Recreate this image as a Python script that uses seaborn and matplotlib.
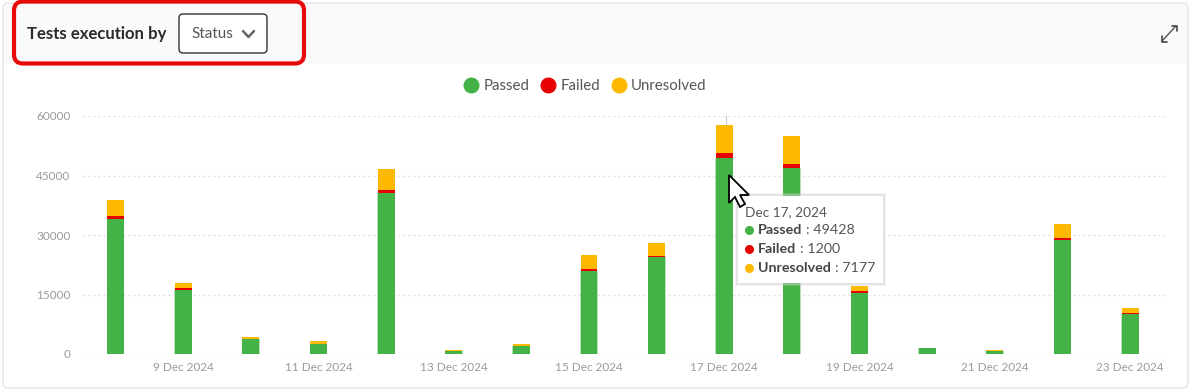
import matplotlib

matplotlib.use("Agg")
import matplotlib.pyplot as plt
import pandas as pd
import seaborn as sns
from matplotlib.lines import Line2D
from matplotlib.patches import FancyBboxPatch, Polygon, Rectangle

dates = ["8 Dec 2024", "9 Dec 2024", "10 Dec 2024", "11 Dec 2024", "12 Dec 2024", "13 Dec 2024",
         "14 Dec 2024", "15 Dec 2024", "16 Dec 2024", "17 Dec 2024", "18 Dec 2024", "19 Dec 2024",
         "20 Dec 2024", "21 Dec 2024", "22 Dec 2024", "23 Dec 2024"]
passed = [34000, 16200, 3800, 2600, 40600, 800, 2000, 21000, 24400, 49428, 46900, 15300, 1600, 800, 28700, 10100]
failed = [800, 500, 0, 0, 800, 0, 0, 400, 400, 1200, 1000, 500, 0, 0, 500, 250]
unresolved = [4000, 1200, 600, 700, 5200, 200, 500, 3600, 3200, 7177, 7100, 1300, 0, 300, 3600, 1250]
y_ticks = [0, 15000, 30000, 45000, 60000]

GREEN = "#43b347"
RED = "#e60000"
AMBER = "#fdb900"
TICK_GREY = "#9a9a9a"

sns.set_theme(style="white")
plt.rcParams["font.family"] = ["Lato", "DejaVu Sans"]

df = pd.DataFrame({"date": dates, "passed": passed, "failed": failed, "unresolved": unresolved})

fig = plt.figure(figsize=(12, 3.92), dpi=100, facecolor="white")

# page furniture sits on a full size axes in pixel coordinates
bg = fig.add_axes([0, 0, 1, 1], zorder=0)
bg.set_xlim(0, 1200)
bg.set_ylim(392, 0)
bg.axis("off")
bg.add_patch(Rectangle((3, 3), 1185, 61, fc="#fafafa", ec="none"))
bg.add_patch(FancyBboxPatch((3, 3), 1185, 385, boxstyle="round,pad=0,rounding_size=5",
                            fc="none", ec="#e4e4e4", lw=1))

# plot area, 83..1165 wide and 116..354 tall in pixels
ax = fig.add_axes([83 / 1200, 1 - 354 / 392, (1165 - 83) / 1200, (354 - 116) / 392], zorder=1)
ax.patch.set_alpha(0)
width = 0.25
# pale halo on the sides of the green part
sns.barplot(data=df, x="date", y="passed", color="#b4e0b6", width=width + 0.012, saturation=1, ax=ax,
            linewidth=0, zorder=2)
sns.barplot(data=df, x="date", y="passed", color=GREEN, width=width, saturation=1, ax=ax,
            linewidth=0, zorder=3)
sns.barplot(data=df, x="date", y="failed", color=RED, width=width, saturation=1, ax=ax,
            bottom=df["passed"], linewidth=0, zorder=3)
sns.barplot(data=df, x="date", y="unresolved", color=AMBER, width=width, saturation=1, ax=ax,
            bottom=df["passed"] + df["failed"], linewidth=0, zorder=3)

ax.set_xlim(-0.48, 15.515)
ax.set_ylim(0, 60000)
ax.set_xlabel("")
ax.set_ylabel("")
ax.set_xticks(range(1, 16, 2))
ax.set_xticklabels(dates[1::2])
ax.set_yticks(y_ticks)
ax.set_yticklabels([str(v) for v in y_ticks])
ax.tick_params(axis="both", length=0, labelsize=8.5, labelcolor=TICK_GREY)
ax.tick_params(axis="x", pad=6)
ax.tick_params(axis="y", pad=9)
ax.yaxis.grid(True, color="#dddddd", linestyle=(0, (1.5, 2.5)), linewidth=0.9, zorder=0)
ax.set_axisbelow(True)
sns.despine(ax=ax, left=True, bottom=True, top=True, right=True)

handles = [Line2D([], [], marker="o", ls="", ms=10.5, color=c) for c in (GREEN, RED, AMBER)]
ax.legend(handles, ["Passed", "Failed", "Unresolved"], loc="center", ncol=3, frameon=False,
          bbox_to_anchor=(0.464, 1.127), fontsize=10.8, labelcolor="#555555",
          handlelength=1, handletextpad=0.3, columnspacing=0.77)

# overlay: header controls, tooltip and pointer
top = fig.add_axes([0, 0, 1, 1], zorder=2)
top.set_xlim(0, 1200)
top.set_ylim(392, 0)
top.axis("off")
top.add_patch(FancyBboxPatch((14, 1.5), 290, 62, boxstyle="round,pad=0,rounding_size=9",
                             fc="none", ec="#e60a0a", lw=3))
top.text(27, 33.5, "Tests execution by", fontsize=12.1, fontweight="bold", color="#2b2b2b", va="center")
top.add_patch(FancyBboxPatch((179, 14), 88, 39, boxstyle="round,pad=0,rounding_size=4",
                             fc="white", ec="#333333", lw=1))
top.text(191, 34, "Status", fontsize=11, color="#555555", va="center")
top.plot([243, 248.5, 254], [31, 37, 31], color="#666666", lw=1.8)

# expand icon
top.plot([1162, 1176], [41, 26], color="#555555", lw=1)
top.plot([1171.5, 1176.5, 1176.5], [25.5, 25.5, 30.5], color="#444444", lw=1.2)
top.plot([1161.5, 1161.5, 1167], [36, 41.5, 41.5], color="#444444", lw=1.2)

# hover line above the hovered bar
top.plot([725.5, 725.5], [116, 125], color="#cccccc", lw=0.8)

for off, alpha in ((2.0, 0.25), (1.0, 0.4)):
    top.add_patch(Rectangle((737 - off, 195 - off), 147 + 2 * off, 89 + 2 * off, fc="#cfcfcf", ec="none", alpha=alpha))
top.add_patch(Rectangle((738, 196), 145, 87, fc="white", ec="none"))

top.text(745, 212, "Dec 17, 2024", fontsize=9.8, color="#555555", va="center")
hovered = dates.index("17 Dec 2024")
rows = [("Passed", passed[hovered], GREEN, 230), ("Failed", failed[hovered], RED, 249),
        ("Unresolved", unresolved[hovered], AMBER, 268)]
renderer = fig.canvas.get_renderer()
for name, value, color, y in rows:
    top.plot([748.5], [y], marker="o", ms=5.5, color=color, ls="")
    label = top.text(758, y, name, fontsize=10.3, fontweight="bold", color="#444444", va="center")
    right = label.get_window_extent(renderer).x1
    top.text(right + 4, y, f": {value}", fontsize=10.3, color="#555555", va="center")

# mouse pointer
top.add_patch(Polygon([(729, 175), (729, 203), (735, 197), (740, 207), (745, 204), (740, 195), (749, 195)],
                      closed=True, fc="white", ec="black", lw=1.3, zorder=5))

fig.savefig("out.png", dpi=100)
